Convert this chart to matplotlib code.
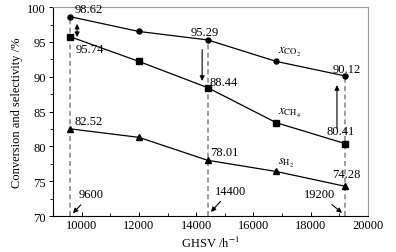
import matplotlib
matplotlib.use('Agg')
import matplotlib.pyplot as plt
from matplotlib.ticker import MultipleLocator

plt.rcParams['font.family'] = ['Liberation Serif', 'DejaVu Serif']
plt.rcParams['mathtext.fontset'] = 'stix'
plt.rcParams['font.size'] = 9

ghsv = [9600, 12000, 14400, 16800, 19200]
x_co2 = [98.62, 96.5, 95.29, 92.2, 90.12]
x_ch4 = [95.74, 92.2, 88.44, 83.4, 80.41]
s_h2 = [82.52, 81.3, 78.01, 76.4, 74.28]
marked = [0, 2, 4]

fig = plt.figure(figsize=(3.96, 2.53), dpi=100)
ax = fig.add_axes([0.134, 0.142, 0.795, 0.826])

# dashed guide lines at the three marked space velocities
for i in marked:
    ax.plot([ghsv[i], ghsv[i]], [70, x_co2[i]], ls=(0, (3, 2)),
            color='#8c8c8c', lw=1.2, zorder=1)

ax.plot(ghsv, x_co2, 'k-o', lw=0.9, ms=3.6, zorder=3)
ax.plot(ghsv, x_ch4, 'k-s', lw=0.9, ms=4, zorder=3)
ax.plot(ghsv, s_h2, 'k-^', lw=0.9, ms=3.8, zorder=3)

# value labels
ax.text(ghsv[0] + 150, x_co2[0] + 0.3, f'{x_co2[0]:.2f}', ha='left', va='bottom')
ax.text(ghsv[0] + 200, x_ch4[0] - 0.9, f'{x_ch4[0]:.2f}', ha='left', va='top')
ax.text(ghsv[0] + 150, s_h2[0] + 0.3, f'{s_h2[0]:.2f}', ha='left', va='bottom')
ax.text(ghsv[2] - 100, x_co2[2] + 0.3, f'{x_co2[2]:.2f}', ha='center', va='bottom')
ax.text(ghsv[2] + 50, x_ch4[2] + 0.0, f'{x_ch4[2]:.2f}', ha='left', va='bottom')
ax.text(ghsv[2] + 100, s_h2[2] + 0.3, f'{s_h2[2]:.2f}', ha='left', va='bottom')
ax.text(ghsv[4] + 50, x_co2[4] + 0.2, f'{x_co2[4]:.2f}', ha='center', va='bottom')
ax.text(ghsv[4] - 150, x_ch4[4] + 1.0, f'{x_ch4[4]:.2f}', ha='center', va='bottom')
ax.text(ghsv[4] + 50, s_h2[4] + 0.9, f'{s_h2[4]:.2f}', ha='center', va='bottom')

# series labels
ax.text(ghsv[3] + 50, x_co2[3] + 0.5, r'$x_{\mathrm{CO_2}}$', ha='left', va='bottom')
ax.text(ghsv[3] + 50, x_ch4[3] + 0.5, r'$x_{\mathrm{CH_4}}$', ha='left', va='bottom')
ax.text(ghsv[3] + 50, s_h2[3] + 0.3, r'$s_{\mathrm{H_2}}$', ha='left', va='bottom')

# arrows between the curves
arrow = dict(arrowstyle='-|>', color='k', lw=0.8, mutation_scale=7)
ax.annotate('', xy=(9840, 95.3), xytext=(9840, 98.0),
            arrowprops=dict(arrowstyle='<|-|>', color='k', lw=0.8, mutation_scale=7))
ax.annotate('', xy=(14210, 89.0), xytext=(14210, 94.3), arrowprops=arrow)
ax.annotate('', xy=(18920, 89.2), xytext=(18920, 82.2), arrowprops=arrow)

# arrows marking the space velocities on the axis
ax.annotate(str(ghsv[0]), xy=(ghsv[0] + 30, 70.1), xytext=(9880, 72.3),
            ha='left', va='bottom', arrowprops=arrow)
ax.annotate(str(ghsv[2]), xy=(ghsv[2] + 50, 70.3), xytext=(14650, 72.8),
            ha='left', va='bottom', arrowprops=arrow)
ax.annotate(str(ghsv[4]), xy=(ghsv[4] - 30, 70.2), xytext=(18300, 72.3),
            ha='center', va='bottom', arrowprops=arrow)

ax.set_xlim(9000, 20000)
ax.set_ylim(70, 100)
ax.xaxis.set_major_locator(MultipleLocator(2000))
ax.xaxis.set_minor_locator(MultipleLocator(1000))
ax.yaxis.set_major_locator(MultipleLocator(5))
ax.yaxis.set_minor_locator(MultipleLocator(2.5))
ax.tick_params(which='major', direction='out', length=3, width=0.7, pad=2)
ax.tick_params(which='minor', direction='out', length=2, width=0.6)
ax.tick_params(axis='x', which='both', direction='in')
ax.tick_params(labelsize=9)

for s in ['left', 'bottom']:
    ax.spines[s].set_linewidth(0.8)
for s in ['top', 'right']:
    ax.spines[s].set_color('#999999')
    ax.spines[s].set_linewidth(0.8)

ax.set_xlabel(r'GHSV /h$^{-1}$', labelpad=3)
ax.set_ylabel('Conversion and selectivity /%', labelpad=3)

fig.savefig('out.png', dpi=100)
